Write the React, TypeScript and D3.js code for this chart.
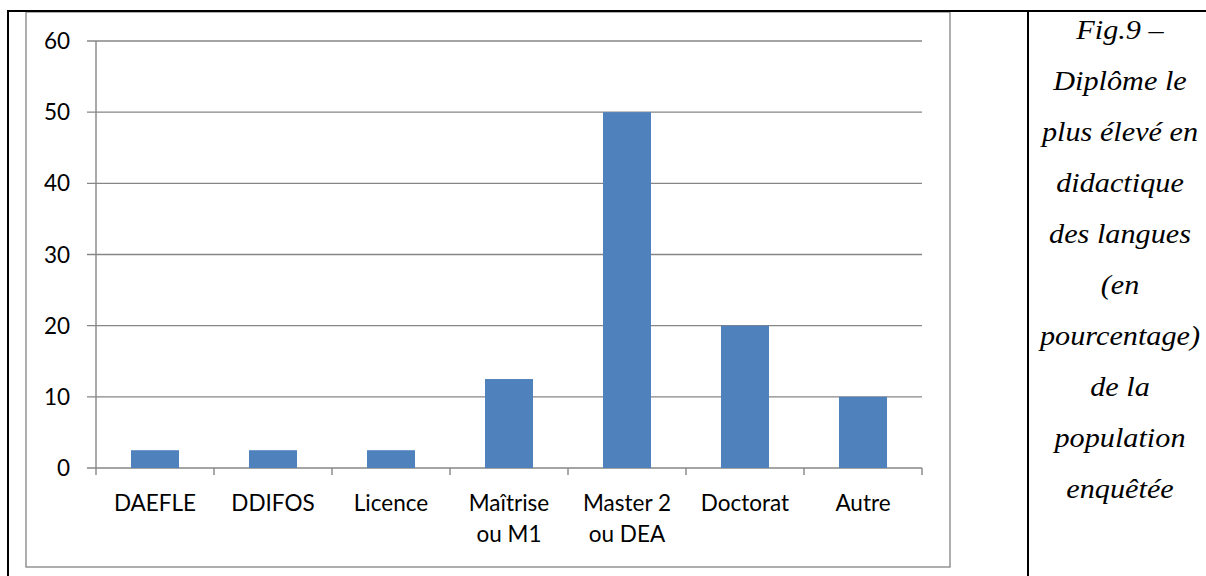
import React from "react";
import * as d3 from "d3";

const categories: string[][] = [
  ["DAEFLE"],
  ["DDIFOS"],
  ["Licence"],
  ["Maîtrise", "ou M1"],
  ["Master 2", "ou DEA"],
  ["Doctorat"],
  ["Autre"],
];
const values: number[] = [2.5, 2.5, 2.5, 12.5, 50, 20, 10];
const yTicks: number[] = [0, 10, 20, 30, 40, 50, 60];
const captionLines: string[] = [
  "Fig.9 –",
  "Diplôme le",
  "plus élevé en",
  "didactique",
  "des langues",
  "(en",
  "pourcentage)",
  "de la",
  "population",
  "enquêtée",
];

const W = 1206;
const H = 576;
const plotLeft = 96;
const plotRight = 922;
const plotTop = 41;
const plotBottom = 468;
const gridColor = "#868686";
const barColor = "#4F81BD";
const chartFont = "Lato, 'Open Sans', sans-serif";

export default function App() {
  const keys = categories.map((c) => c.join(" "));
  const x = d3
    .scaleBand<string>()
    .domain(keys)
    .range([plotLeft, plotRight])
    .paddingInner(0.593)
    .paddingOuter(0.593 / 2);
  const step = (plotRight - plotLeft) / keys.length;
  const y = d3.scaleLinear().domain([0, 60]).range([plotBottom, plotTop]);

  const capX = 1120;
  const capStart = 39;
  const capStep = 51;

  return (
    <svg
      width={W}
      height={H}
      style={{ position: "absolute", left: 0, top: 0, background: "#fff" }}
    >
      <rect x={0} y={0} width={W} height={H} fill="#fff" />
      {/* chart border */}
      <rect
        x={26}
        y={12}
        width={924}
        height={555}
        fill="none"
        stroke="#8c8c8c"
        strokeWidth={1.4}
      />
      {/* grid lines and y labels */}
      {yTicks.map((t) => (
        <g key={t}>
          <line
            x1={plotLeft - 9}
            x2={plotRight}
            y1={y(t)}
            y2={y(t)}
            stroke={gridColor}
            strokeWidth={1.4}
          />
          <text
            x={70}
            y={y(t)}
            dy="0.36em"
            textAnchor="end"
            fontFamily={chartFont}
            fontSize={22.5}
            fill="#000"
          >
            {t}
          </text>
        </g>
      ))}
      {/* y axis */}
      <line
        x1={plotLeft}
        x2={plotLeft}
        y1={plotTop}
        y2={plotBottom + 7}
        stroke={gridColor}
        strokeWidth={1.4}
      />
      {/* category ticks */}
      {d3.range(1, keys.length + 1).map((i) => (
        <line
          key={i}
          x1={plotLeft + step * i}
          x2={plotLeft + step * i}
          y1={plotBottom}
          y2={plotBottom + 7}
          stroke={gridColor}
          strokeWidth={1.4}
        />
      ))}
      {/* bars */}
      {keys.map((k, i) => (
        <rect
          key={k}
          x={x(k)}
          y={y(values[i])}
          width={x.bandwidth()}
          height={y(0) - y(values[i])}
          fill={barColor}
        />
      ))}
      {/* x labels */}
      {categories.map((lines, i) => (
        <text
          key={i}
          x={(x(keys[i]) as number) + x.bandwidth() / 2}
          y={511}
          textAnchor="middle"
          fontFamily={chartFont}
          fontSize={22.5}
          fill="#000"
        >
          {lines.map((l, j) => (
            <tspan key={j} x={(x(keys[i]) as number) + x.bandwidth() / 2} dy={j === 0 ? 0 : 31}>
              {l}
            </tspan>
          ))}
        </text>
      ))}
      {/* table lines */}
      <line x1={7} x2={W} y1={11} y2={11} stroke="#000" strokeWidth={2} />
      <line x1={8} x2={8} y1={10} y2={H} stroke="#000" strokeWidth={2} />
      <line x1={1028} x2={1028} y1={10} y2={H} stroke="#000" strokeWidth={2} />
      {/* caption */}
      {captionLines.map((l, i) => (
        <text
          key={i}
          transform={`translate(${capX},${capStart + capStep * i}) scale(1.12,1)`}
          textAnchor="middle"
          fontFamily="Liberation Serif"
          fontStyle="italic"
          fontSize={27}
          fill="#000"
        >
          {l}
        </text>
      ))}
    </svg>
  );
}
